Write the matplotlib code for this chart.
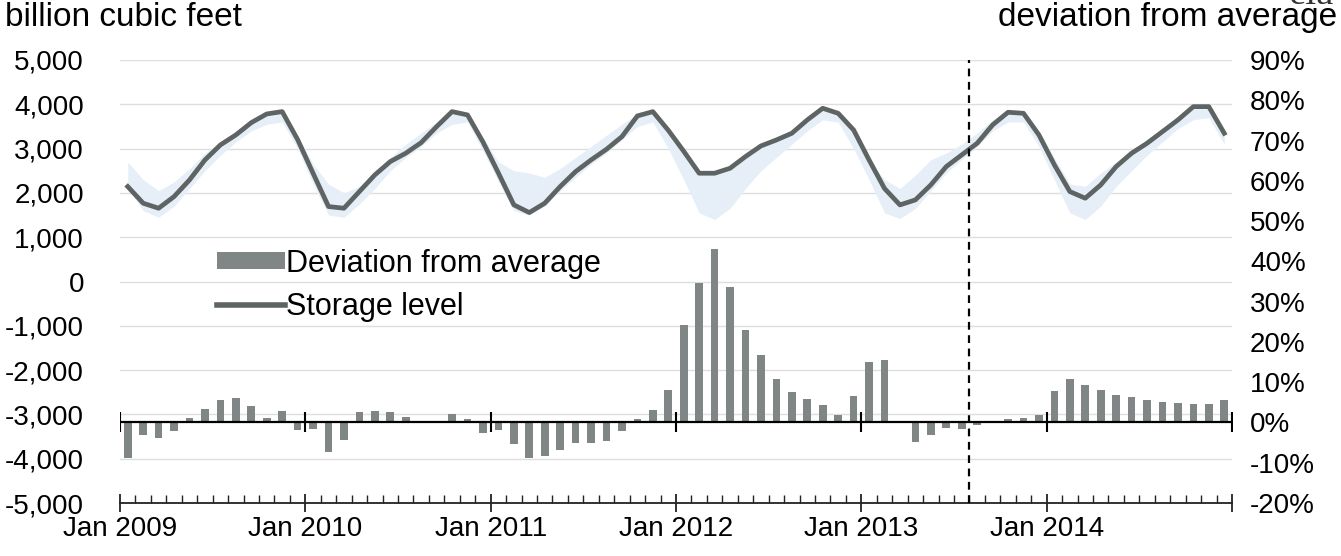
import numpy as np
import matplotlib.pyplot as plt
from matplotlib.ticker import FixedLocator, FixedFormatter, MultipleLocator
from matplotlib.patches import Patch
from matplotlib.lines import Line2D

plt.rcParams['font.family'] = ['Liberation Sans', 'DejaVu Sans']
plt.rcParams['axes.unicode_minus'] = False

# monthly data, Jan 2009 - Dec 2014
storage = [2143, 1767, 1654, 1917, 2293, 2744, 3083, 3308, 3586, 3782, 3835, 3203,
           2444, 1692, 1654, 2030, 2406, 2707, 2895, 3135, 3496, 3835, 3760, 3150,
           2450, 1730, 1556, 1767, 2143, 2481, 2744, 2985, 3271, 3737, 3835, 3414,
           2940, 2444, 2444, 2556, 2820, 3060, 3195, 3346, 3647, 3910, 3797, 3421,
           2744, 2100, 1729, 1842, 2180, 2594, 2857, 3120, 3534, 3820, 3797, 3308,
           2632, 2030, 1880, 2180, 2594, 2895, 3120, 3383, 3647, 3947, 3947, 3346]

range_low = [2100, 1600, 1450, 1700, 2100, 2500, 2850, 3150, 3400, 3550, 3600, 3000,
             2200, 1500, 1450, 1750, 2100, 2500, 2800, 3050, 3350, 3550, 3600, 2950,
             2250, 1600, 1500, 1700, 2050, 2350, 2650, 2900, 3200, 3500, 3600, 3000,
             2300, 1550, 1400, 1650, 2100, 2500, 2800, 3100, 3400, 3650, 3600, 3000,
             2300, 1550, 1420, 1650, 2050, 2450, 2750, 3050, 3400, 3600, 3600, 3050,
             2300, 1550, 1400, 1700, 2150, 2500, 2850, 3150, 3450, 3650, 3700, 3100]

range_high = [2700, 2300, 2050, 2250, 2550, 2900, 3150, 3400, 3650, 3800, 3850, 3300,
              2650, 2200, 2000, 2150, 2450, 2800, 3100, 3350, 3600, 3850, 3800, 3250,
              2700, 2500, 2450, 2350, 2550, 2800, 3050, 3300, 3550, 3780, 3850, 3420,
              2950, 2450, 2450, 2560, 2820, 3060, 3200, 3350, 3650, 3910, 3800, 3420,
              2750, 2300, 2100, 2400, 2750, 2900, 3100, 3350, 3650, 3850, 3850, 3400,
              2800, 2200, 2150, 2450, 2700, 2950, 3200, 3450, 3700, 3900, 3900, 3400]

deviation = [-8.9, -3.1, -3.8, -2.1, 1.1, 3.4, 5.5, 6.0, 4.1, 1.0, 2.9, -1.9,
             -1.7, -7.4, -4.3, 2.7, 2.9, 2.5, 1.4, 0.2, 0.2, 2.0, 0.9, -2.5,
             -1.8, -5.3, -8.8, -8.4, -6.8, -5.2, -5.1, -4.6, -2.1, 0.8, 3.0, 8.1,
             24.1, 34.7, 43.1, 33.6, 23.0, 16.7, 10.9, 7.6, 5.8, 4.3, 1.8, 6.5,
             15.0, 15.5, 0.0, -4.8, -3.1, -1.3, -1.5, -0.7, 0.0, 0.8, 1.1, 1.8,
             7.9, 10.7, 9.3, 8.0, 6.8, 6.4, 5.6, 5.0, 4.9, 4.5, 4.7, 5.5]

year_labels = ['Jan 2009', 'Jan 2010', 'Jan 2011', 'Jan 2012', 'Jan 2013', 'Jan 2014', '']
forecast_start = 55  # Aug 2013

left_ticks = list(range(-5000, 5001, 1000))
left_labels = [f'{v:,}' for v in left_ticks]
right_ticks = list(range(-20, 91, 10))
right_labels = [f'{v}%' for v in right_ticks]

line_col = '#5e6464'
bar_col = '#808585'
band_col = '#e6eff8'

x = np.arange(len(storage)) + 0.5

fig = plt.figure(figsize=(13.41, 5.56), dpi=100)
ax = fig.add_axes([0.0895, 0.0953, 0.8292, 0.7968])
ax2 = ax.twinx()

ax.fill_between(x, range_low, range_high, color=band_col, lw=0, zorder=1)
ax.plot(x, storage, color=line_col, lw=3.4, zorder=3, solid_joinstyle='round')

ax2.bar(x, deviation, width=0.5, color=bar_col, zorder=2)
ax2.axhline(0, color='black', lw=1.6, zorder=4)
ax2.plot(np.arange(0, 73, 12), np.zeros(7), ls='none', marker='|',
         markersize=14, mew=1.5, color='black', zorder=4)
ax2.axvline(forecast_start, color='black', lw=1.6, ls=(0, (3.5, 2.5)), zorder=5)

ax.set_xlim(0, 72)
ax.set_ylim(-5000, 5000)
ax2.set_ylim(-20, 90)

ax.yaxis.set_major_locator(FixedLocator(left_ticks))
ax.yaxis.set_major_formatter(FixedFormatter(left_labels))
ax2.yaxis.set_major_locator(FixedLocator(right_ticks))
ax2.yaxis.set_major_formatter(FixedFormatter(right_labels))

ax.xaxis.set_major_locator(FixedLocator(list(range(0, 73, 12))))
ax.xaxis.set_major_formatter(FixedFormatter(year_labels))
ax.xaxis.set_minor_locator(MultipleLocator(1))

ax.grid(axis='y', color='#dedede', lw=1.0, zorder=0)
ax.set_axisbelow(True)

for a in (ax, ax2):
    for s in ('top', 'left', 'right'):
        a.spines[s].set_visible(False)
ax2.spines['bottom'].set_visible(False)
ax.spines['bottom'].set_color('#222222')
ax.spines['bottom'].set_linewidth(1.3)

ax.tick_params(axis='y', length=0, pad=26, labelsize=20)
ax2.tick_params(axis='y', length=0, pad=13, labelsize=20)
ax.tick_params(axis='x', which='major', direction='inout', length=13, width=1.3,
               labelsize=20, pad=3, color='#222222')
ax.tick_params(axis='x', which='minor', direction='in', length=6, width=1.0,
               color='#222222')

handles = [Patch(facecolor=bar_col, edgecolor='none'),
           Line2D([0], [0], color=line_col, lw=4)]
ax2.legend(handles, ['Deviation from average', 'Storage level'],
           loc='upper left', bbox_to_anchor=(0.153, 0.575),
           bbox_transform=fig.transFigure, frameon=False, fontsize=22,
           handlelength=2.2, handleheight=0.5, handletextpad=0.05,
           labelspacing=0.45, borderaxespad=0)

fig.text(0.004, 0.968, 'billion cubic feet', fontsize=24, ha='left', va='center')
fig.text(0.997, 0.968, 'deviation from average', fontsize=24, ha='right', va='center')
fig.text(0.995, 0.993, 'eia', fontsize=28, family='Liberation Serif',
         ha='right', va='baseline', color='#333333')

fig.savefig('out.png', dpi=100)
